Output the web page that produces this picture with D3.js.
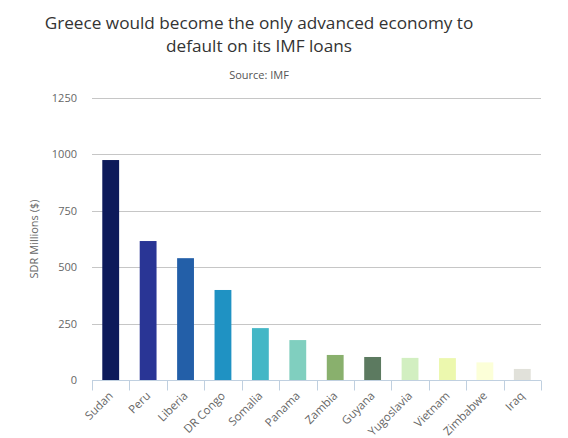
<!DOCTYPE html>
<html>
<head>
<meta charset="utf-8">
<script src="https://cdn.jsdelivr.net/npm/d3@7"></script>
<style>
  body { margin: 0; background: #fff; }
  svg text { font-family: "Open Sans", "DejaVu Sans", sans-serif; }
</style>
</head>
<body>
<div id="chart"></div>
<script>
var countries = ["Sudan", "Peru", "Liberia", "DR Congo", "Somalia", "Panama",
                 "Zambia", "Guyana", "Yugoslavia", "Vietnam", "Zimbabwe", "Iraq"];
var sdrMillions = [975, 616, 540, 399, 230, 177, 111, 102, 98, 97, 78, 49];
var barColors = ["#0d1a5a", "#293595", "#235fa8", "#1f92c3", "#44b7c6", "#80cfbf",
                 "#89b06d", "#5c7a60", "#d2efc1", "#ecf8ae", "#fcffd8", "#e1e1da"];
var yTicks = [0, 250, 500, 750, 1000, 1250];

var w = 568, h = 438;
var plotLeft = 92, plotRight = 541, plotTop = 98, plotBottom = 380;

var svg = d3.select("#chart").append("svg")
  .attr("width", w)
  .attr("height", h);

// titles
svg.append("text")
  .attr("x", 259).attr("y", 29)
  .attr("text-anchor", "middle")
  .style("font-size", "17.2px").style("fill", "#333")
  .text("Greece would become the only advanced economy to");
svg.append("text")
  .attr("x", 259).attr("y", 52)
  .attr("text-anchor", "middle")
  .style("font-size", "17.2px").style("fill", "#333")
  .text("default on its IMF loans");
svg.append("text")
  .attr("x", 259).attr("y", 79)
  .attr("text-anchor", "middle")
  .style("font-size", "11px").style("fill", "#555")
  .text("Source: IMF");

var xScale = d3.scaleBand()
  .domain(countries)
  .range([plotLeft, plotRight])
  .paddingInner(0.55)
  .paddingOuter(0.275);

var yScale = d3.scaleLinear()
  .domain([0, 1250])
  .range([plotBottom, plotTop]);

// gridlines
svg.append("g")
  .selectAll("line")
  .data(yTicks.filter(function(d) { return d > 0; }))
  .enter().append("line")
  .attr("x1", plotLeft).attr("x2", plotRight)
  .attr("y1", function(d) { return Math.round(yScale(d)) + 0.5; })
  .attr("y2", function(d) { return Math.round(yScale(d)) + 0.5; })
  .style("stroke", "#c6c6c6");

// y axis labels
var yAxis = d3.axisLeft(yScale).tickValues(yTicks).tickSize(0).tickPadding(15)
  .tickFormat(d3.format("d"));
var gy = svg.append("g")
  .attr("transform", "translate(" + plotLeft + ",0)")
  .call(yAxis);
gy.select(".domain").remove();
gy.selectAll("text")
  .style("font-size", "11px").style("fill", "#666")
  .style("font-family", "'Open Sans', sans-serif");

svg.append("text")
  .attr("transform", "translate(38," + ((plotTop + plotBottom) / 2) + ") rotate(-90)")
  .attr("text-anchor", "middle")
  .style("font-size", "11px").style("fill", "#666")
  .text("SDR Millions ($)");

// bars
svg.append("g")
  .selectAll("rect")
  .data(countries)
  .enter().append("rect")
  .attr("x", function(d) { return xScale(d); })
  .attr("width", xScale.bandwidth())
  .attr("y", function(d, i) { return yScale(sdrMillions[i]); })
  .attr("height", function(d, i) { return plotBottom - yScale(sdrMillions[i]); })
  .style("fill", function(d, i) { return barColors[i]; });

// x axis
var step = xScale.step();
var gx = svg.append("g").attr("transform", "translate(0," + (plotBottom + 0.5) + ")");
gx.append("line")
  .attr("x1", plotLeft).attr("x2", plotRight)
  .style("stroke", "#c0d0e0");
gx.selectAll(".tick-mark")
  .data(d3.range(countries.length + 1))
  .enter().append("line")
  .attr("class", "tick-mark")
  .attr("x1", function(i) { return Math.round(plotLeft + i * step) + 0.5; })
  .attr("x2", function(i) { return Math.round(plotLeft + i * step) + 0.5; })
  .attr("y1", 0).attr("y2", 10)
  .style("stroke", "#c0d0e0");

gx.selectAll(".xlabel")
  .data(countries)
  .enter().append("text")
  .attr("class", "xlabel")
  .attr("text-anchor", "end")
  .attr("transform", function(d) {
    return "translate(" + (xScale(d) + xScale.bandwidth() / 2 + 3) + ",16) rotate(-45)";
  })
  .style("font-size", "11.5px").style("fill", "#666")
  .text(function(d) { return d; });
</script>
</body>
</html>
